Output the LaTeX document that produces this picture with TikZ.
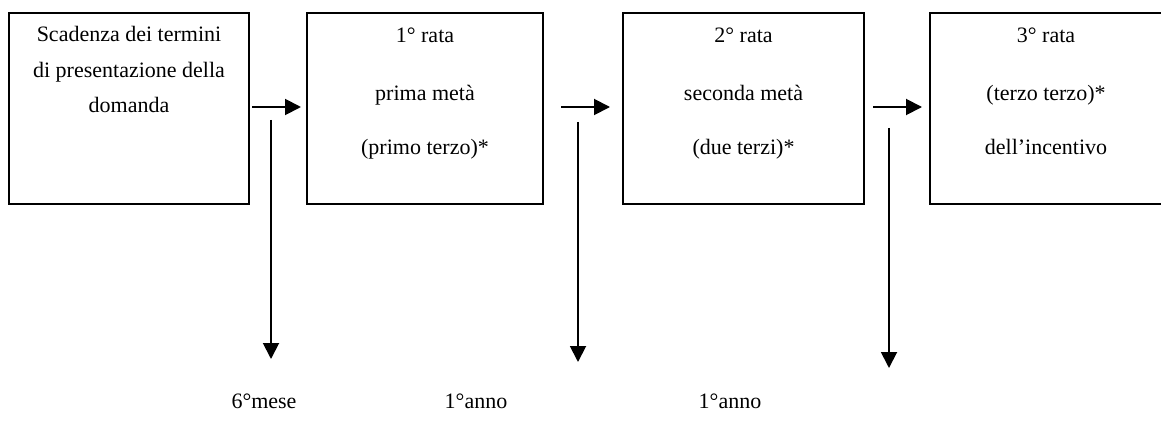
\documentclass[tikz,border=0pt]{standalone}
\usepackage{fontspec}
\setmainfont{Liberation Serif}
\usetikzlibrary{arrows.meta}
\begin{document}
\begin{tikzpicture}[x=1pt,y=-1pt,
  box/.style={draw, line width=1.9pt, rectangle, inner sep=0pt},
  lbl/.style={font=\fontsize{22}{26}\selectfont, anchor=base, inner sep=0pt},
  arr/.style={line width=1.9pt, -{Triangle[length=16pt,width=16pt]}}]
\useasboundingbox (0,0) rectangle (1161,425);
\clip (0,0) rectangle (1161,425);
% boxes
\node[box, minimum width=240pt, minimum height=191pt] (b1) at (129,108.5) {};
\node[box, minimum width=236pt, minimum height=191pt] (b2) at (425,108.5) {};
\node[box, minimum width=241pt, minimum height=191pt] (b3) at (743.5,108.5) {};
\node[box, minimum width=240pt, minimum height=191pt] (b4) at (1050,108.5) {};
% box texts
\node[lbl] (t11) at (129,42) {Scadenza dei termini};
\node[lbl] (t12) at (129,77.5) {di presentazione della};
\node[lbl] (t13) at (129,113) {domanda};
\node[lbl] (t21) at (425,43) {1° rata};
\node[lbl] (t22) at (425,101) {prima metà};
\node[lbl] (t23) at (425,154) {(primo terzo)*};
\node[lbl] (t31) at (743.5,43) {2° rata};
\node[lbl] (t32) at (743.5,101) {seconda metà};
\node[lbl] (t33) at (743.5,154) {(due terzi)*};
\node[lbl] (t41) at (1046,43) {3° rata};
\node[lbl] (t42) at (1046,101) {(terzo terzo)*};
\node[lbl] (t43) at (1046,154) {dell’incentivo};
% horizontal arrows
\coordinate (h1s) at (252,107); \coordinate (h1e) at (301,107);
\coordinate (h2s) at (561,107); \coordinate (h2e) at (610,107);
\coordinate (h3s) at (873,107); \coordinate (h3e) at (922,107);
\draw[arr] (h1s) -- (h1e);
\draw[arr] (h2s) -- (h2e);
\draw[arr] (h3s) -- (h3e);
% vertical arrows
\coordinate (v1s) at (271,120); \coordinate (v1e) at (271,359);
\coordinate (v2s) at (578,122); \coordinate (v2e) at (578,362);
\coordinate (v3s) at (889,128); \coordinate (v3e) at (889,368);
\draw[arr] (v1s) -- (v1e);
\draw[arr] (v2s) -- (v2e);
\draw[arr] (v3s) -- (v3e);
% bottom labels
\node[lbl] (m1) at (264,408) {6°mese};
\node[lbl] (m2) at (476,408) {1°anno};
\node[lbl] (m3) at (730,408) {1°anno};
\end{tikzpicture}
\end{document}
